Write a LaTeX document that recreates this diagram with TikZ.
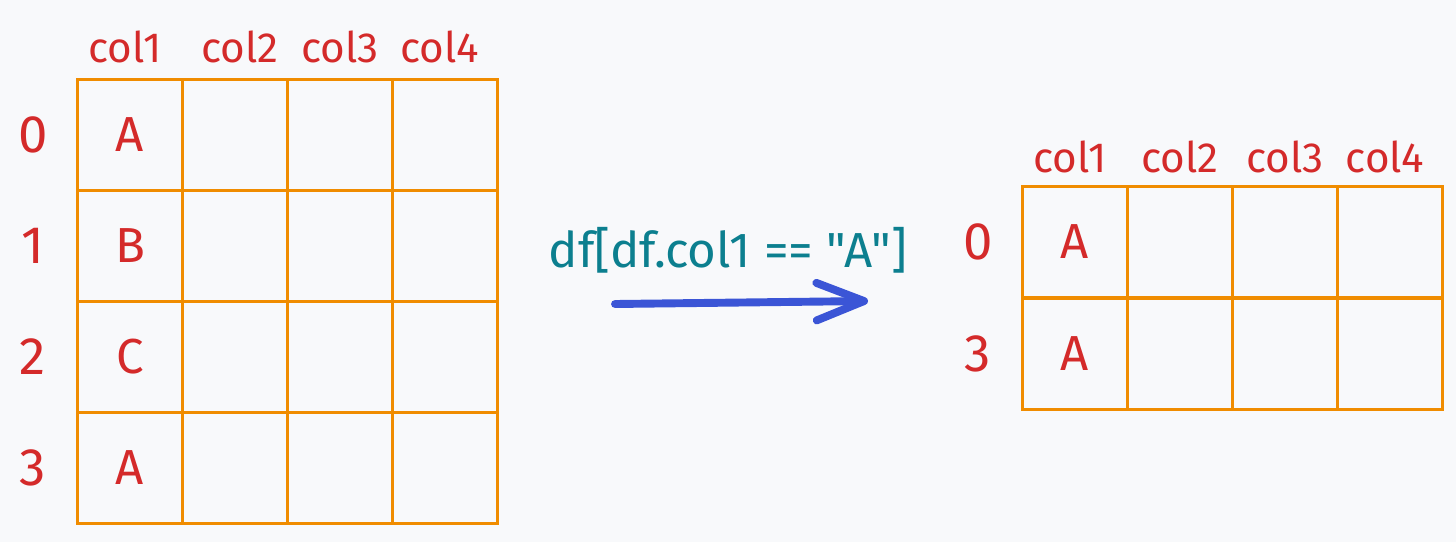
\documentclass[tikz,border=0pt]{standalone}
\usepackage{fontspec}
\setmainfont{Fira Sans}
\newfontfamily\exprfont{Fira Sans}[Ligatures=TeXOff]
\usetikzlibrary{shapes.geometric, arrows, arrows.meta, positioning}
\definecolor{exred}{HTML}{D42A2A}
\definecolor{exorange}{HTML}{F08C00}
\definecolor{exteal}{HTML}{0C7F8F}
\definecolor{exblue}{HTML}{3B55D6}
\definecolor{bgcol}{HTML}{F8F9FB}
\tikzstyle{cell} = [rectangle, 
minimum width=2.1cm, 
minimum height=2.22cm, 
draw=exorange, 
line width=1.3pt, 
text=exred, 
font=\fontsize{28}{32}\selectfont]
\tikzstyle{header} = [text=exred, 
font=\fontsize{24}{28}\selectfont]
\tikzstyle{rowlabel} = [text=exred, 
font=\fontsize{30}{34}\selectfont]
\tikzstyle{expr} = [text=exteal, 
font=\exprfont\fontsize{28}{32}\selectfont]
\tikzstyle{arrow} = [line width=4.5pt, 
line cap=round, 
draw=exblue, 
-{Straight Barb[length=0.95cm, width=0.75cm, round]}]

\begin{document}
\begin{tikzpicture}[node distance=2.1cm]
			
			\fill [bgcol] (0,0) rectangle (29.12,-10.84);
			\useasboundingbox (0,0) rectangle (29.12,-10.84);
			
			% left table
			\node (l01) [cell] at (2.6,-2.7) {A};
			\node (l02) [cell, right of=l01] {};
			\node (l03) [cell, right of=l02] {};
			\node (l04) [cell, right of=l03] {};
			
			\node (l11) [cell, below of=l01, yshift=-0.12cm] {B};
			\node (l12) [cell, right of=l11] {};
			\node (l13) [cell, right of=l12] {};
			\node (l14) [cell, right of=l13] {};
			
			\node (l21) [cell, below of=l11, yshift=-0.12cm] {C};
			\node (l22) [cell, right of=l21] {};
			\node (l23) [cell, right of=l22] {};
			\node (l24) [cell, right of=l23] {};
			
			\node (l31) [cell, below of=l21, yshift=-0.12cm] {A};
			\node (l32) [cell, right of=l31] {};
			\node (l33) [cell, right of=l32] {};
			\node (l34) [cell, right of=l33] {};
			
			\node (lh1) [header, above of=l01, yshift=-0.34cm, xshift=-0.1cm] {col1};
			\node (lh2) [header, above of=l02, yshift=-0.34cm, xshift=0.1cm] {col2};
			\node (lh3) [header, above of=l03, yshift=-0.34cm] {col3};
			\node (lh4) [header, above of=l04, yshift=-0.34cm, xshift=-0.1cm] {col4};
			
			\node (lr0) [rowlabel, left of=l01, xshift=0.16cm] {0};
			\node (lr1) [rowlabel, left of=l11, xshift=0.16cm] {1};
			\node (lr2) [rowlabel, left of=l21, xshift=0.16cm] {2};
			\node (lr3) [rowlabel, left of=l31, xshift=0.16cm] {3};
			
			% filter
			\node (cond) [expr] at (14.56,-5.0) {df[df.col1 == "A"]};
			\coordinate (src) at (12.3,-6.08);
			\coordinate (dst) at (17.36,-6.02);
			\draw [arrow] (src) -- (dst);
			
			% right table
			\node (r01) [cell] at (21.5,-4.84) {A};
			\node (r02) [cell, right of=r01] {};
			\node (r03) [cell, right of=r02] {};
			\node (r04) [cell, right of=r03] {};
			
			\node (r31) [cell, below of=r01, yshift=-0.14cm] {A};
			\node (r32) [cell, right of=r31] {};
			\node (r33) [cell, right of=r32] {};
			\node (r34) [cell, right of=r33] {};
			
			\node (rh1) [header, above of=r01, yshift=-0.4cm, xshift=-0.1cm] {col1};
			\node (rh2) [header, above of=r02, yshift=-0.4cm] {col2};
			\node (rh3) [header, above of=r03, yshift=-0.4cm] {col3};
			\node (rh4) [header, above of=r04, yshift=-0.4cm, xshift=-0.1cm] {col4};
			
			\node (rr0) [rowlabel, left of=r01, xshift=0.16cm] {0};
			\node (rr3) [rowlabel, left of=r31, xshift=0.16cm] {3};
			
\end{tikzpicture}
\end{document}
